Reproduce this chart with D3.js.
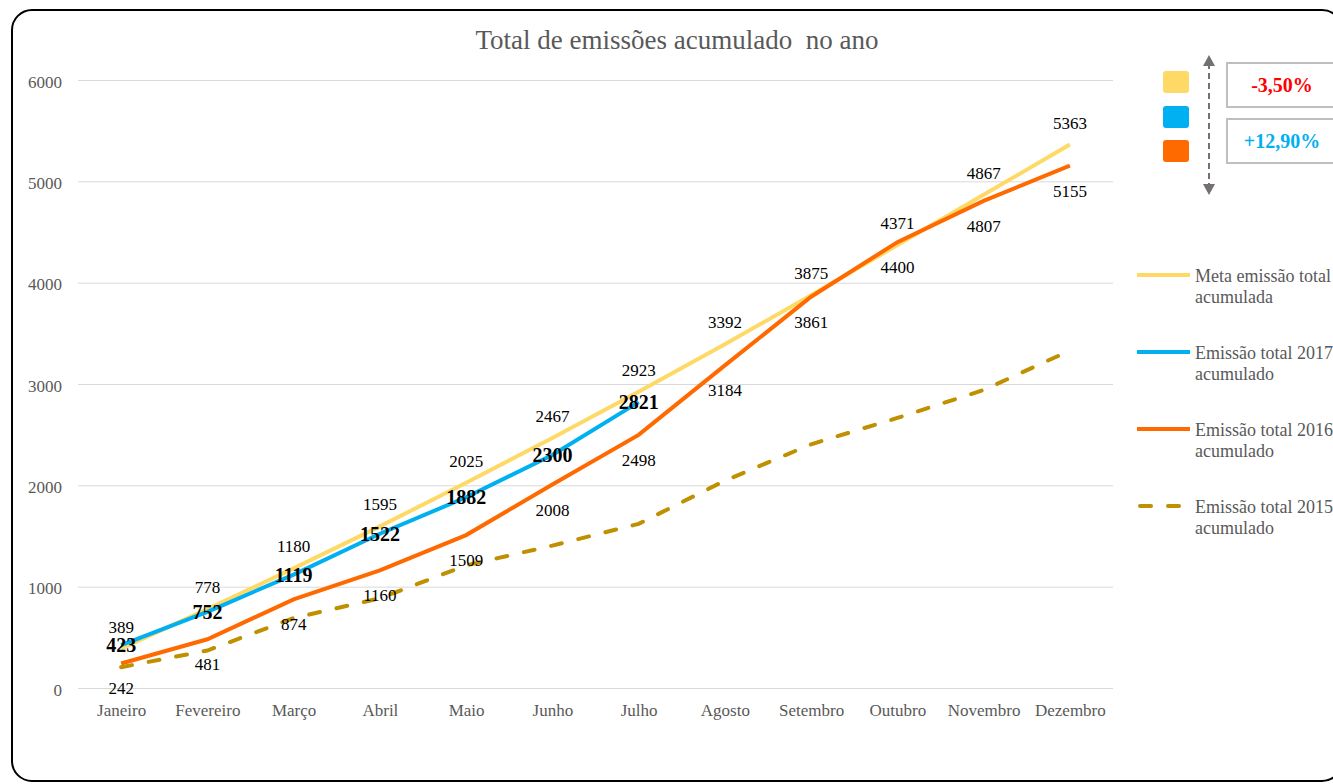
<!DOCTYPE html>
<html>
<head>
  <meta charset="utf-8">
  <title>Total de emissões acumulado no ano</title>
  <script src="https://d3js.org/d3.v7.min.js"></script>
  <style>
    body { margin: 0; background: #fff; }
    svg { display: block; font-family: "Liberation Serif", "Times New Roman", serif; }
  </style>
</head>
<body>
  <svg id="chart"></svg>

  <script>
    // data
    const meses = ["Janeiro", "Fevereiro", "Março", "Abril", "Maio", "Junho",
                   "Julho", "Agosto", "Setembro", "Outubro", "Novembro", "Dezembro"];
    const meta = [389, 778, 1180, 1595, 2025, 2467, 2923, 3392, 3875, 4371, 4867, 5363];
    const em2017 = [423, 752, 1119, 1522, 1882, 2300, 2821];
    const em2016 = [242, 481, 874, 1160, 1509, 2008, 2498, 3184, 3861, 4400, 4807, 5155];
    const em2015 = [205, 370, 690, 885, 1210, 1405, 1620, 2046, 2405, 2665, 2941, 3330]; // no labels, estimated
    const yTicks = [0, 1000, 2000, 3000, 4000, 5000, 6000];
    const legendNames = [
      ["Meta emissão total", "acumulada"],
      ["Emissão total 2017", "acumulado"],
      ["Emissão total 2016", "acumulado"],
      ["Emissão total 2015", "acumulado"]
    ];
    const diffTexts = ["-3,50%", "+12,90%"];

    const colors = { meta: "#FFD966", e2017: "#00B0F0", e2016: "#FF6A00", e2015: "#BF9000" };

    const W = 1333, H = 784;
    const svg = d3.select("#chart").attr("width", W).attr("height", H);

    // outer rounded frame
    svg.append("rect")
      .attr("x", 12).attr("y", 10)
      .attr("width", 1330).attr("height", 771)
      .attr("rx", 20).attr("ry", 20)
      .attr("fill", "none").attr("stroke", "#000").attr("stroke-width", 2);

    // title
    svg.append("text")
      .attr("x", 677).attr("y", 49)
      .attr("text-anchor", "middle")
      .attr("font-size", 27)
      .attr("fill", "#595959")
      .style("white-space", "pre")
      .text("Total de emissões acumulado  no ano");

    const plotL = 78, plotR = 1113, plotT = 80, plotB = 688;

    const x = d3.scalePoint().domain(meses).range([plotL, plotR]).padding(0.5);
    const y = d3.scaleLinear().domain([0, 6000]).range([plotB, plotT]);

    // y gridlines + labels
    const yAxis = svg.append("g")
      .attr("transform", `translate(${plotL},0)`)
      .call(d3.axisLeft(y).tickValues(yTicks).tickSize(-(plotR - plotL)).tickPadding(16).tickFormat(d3.format("d")));
    yAxis.select(".domain").remove();
    yAxis.selectAll(".tick line").attr("stroke", "#d9d9d9").attr("stroke-width", 1);
    yAxis.selectAll(".tick text")
      .attr("font-family", "Liberation Serif, serif")
      .attr("font-size", 17).attr("fill", "#595959").attr("dy", "0.43em");

    // x labels
    const xAxis = svg.append("g")
      .attr("transform", `translate(0,${plotB})`)
      .call(d3.axisBottom(x).tickSize(0).tickPadding(0));
    xAxis.select(".domain").remove();
    xAxis.selectAll(".tick text")
      .attr("font-family", "Liberation Serif, serif")
      .attr("font-size", 17).attr("fill", "#595959")
      .attr("dy", 0).attr("y", 28);

    const line = d3.line()
      .x((d, i) => x(meses[i]))
      .y(d => y(d));

    svg.append("path").datum(meta)
      .attr("d", line).attr("fill", "none")
      .attr("stroke", colors.meta).attr("stroke-width", 4);

    svg.append("path").datum(em2017)
      .attr("d", line).attr("fill", "none")
      .attr("stroke", colors.e2017).attr("stroke-width", 4);

    svg.append("path").datum(em2016)
      .attr("d", line).attr("fill", "none")
      .attr("stroke", colors.e2016).attr("stroke-width", 4);

    svg.append("path").datum(em2015)
      .attr("d", line).attr("fill", "none")
      .attr("stroke", colors.e2015).attr("stroke-width", 4)
      .attr("stroke-dasharray", "11,17").attr("stroke-linecap", "round");

    // data labels
    svg.append("g").selectAll("text")
      .data(meta).join("text")
      .attr("x", (d, i) => x(meses[i]))
      .attr("y", d => y(d) - 16)
      .attr("text-anchor", "middle").attr("font-size", 17).attr("fill", "#000")
      .text(d => d);

    svg.append("g").selectAll("text")
      .data(em2016).join("text")
      .attr("x", (d, i) => x(meses[i]))
      .attr("y", d => y(d) + 31)
      .attr("text-anchor", "middle").attr("font-size", 17).attr("fill", "#000")
      .text(d => d);

    svg.append("g").selectAll("text")
      .data(em2017).join("text")
      .attr("x", (d, i) => x(meses[i]))
      .attr("y", d => y(d) + 7)
      .attr("text-anchor", "middle").attr("font-size", 20).attr("font-weight", "bold").attr("fill", "#000")
      .text(d => d);

    // legend
    const legColors = [colors.meta, colors.e2017, colors.e2016, colors.e2015];
    const leg = svg.append("g");
    legendNames.forEach((names, i) => {
      const ly = 275 + i * 77;
      const l = leg.append("line")
        .attr("x1", 1137).attr("x2", 1190).attr("y1", ly).attr("y2", ly)
        .attr("stroke", legColors[i]).attr("stroke-width", 4);
      if (i === 3) l.attr("stroke-dasharray", "11,17").attr("stroke-linecap", "round").attr("x1", 1140);
      const t = leg.append("text").attr("x", 1195).attr("y", ly + 7)
        .attr("font-size", 18).attr("fill", "#595959");
      t.append("tspan").attr("x", 1195).text(names[0]);
      t.append("tspan").attr("x", 1195).attr("dy", 21).text(names[1]);
    });

    // colour swatches
    [colors.meta, colors.e2017, colors.e2016].forEach((c, i) => {
      svg.append("rect")
        .attr("x", 1163).attr("y", [71, 106, 140][i])
        .attr("width", 26).attr("height", 22).attr("rx", 3)
        .attr("fill", c);
    });

    // dashed double arrow
    const ax = 1209;
    svg.append("line")
      .attr("x1", ax).attr("x2", ax).attr("y1", 63).attr("y2", 186)
      .attr("stroke", "#767171").attr("stroke-width", 2).attr("stroke-dasharray", "6,4");
    svg.append("path")
      .attr("d", `M${ax},55 L${ax - 6},66 L${ax + 6},66 Z`).attr("fill", "#767171");
    svg.append("path")
      .attr("d", `M${ax},195 L${ax - 6},184 L${ax + 6},184 Z`).attr("fill", "#767171");

    // difference boxes
    const boxY = [63, 119];
    const boxColors = ["#FF0000", "#00B0F0"];
    diffTexts.forEach((txt, i) => {
      svg.append("rect")
        .attr("x", 1227).attr("y", boxY[i]).attr("width", 130).attr("height", 44)
        .attr("fill", "#fff").attr("stroke", "#bfbfbf").attr("stroke-width", 2);
      svg.append("text")
        .attr("x", 1282).attr("y", boxY[i] + 29)
        .attr("text-anchor", "middle").attr("font-size", 20).attr("font-weight", "bold")
        .attr("fill", boxColors[i]).text(txt);
    });
  </script>
</body>
</html>
